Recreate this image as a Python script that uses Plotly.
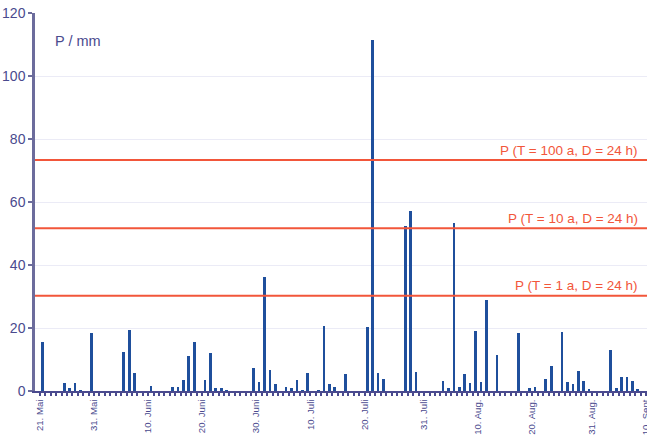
import plotly.graph_objects as go

year = "2005"
dates = ["05-21","05-25","05-26","05-27","05-28","05-30","06-05","06-06","06-07","06-10",
         "06-14","06-15","06-16","06-17","06-18","06-20","06-21","06-22","06-23","06-24",
         "06-29","06-30","07-01","07-02","07-03","07-05","07-06","07-07","07-08","07-09",
         "07-11","07-12","07-13","07-14","07-16","07-20","07-21","07-22","07-23","07-27",
         "07-28","07-29","08-03","08-04","08-05","08-06","08-07","08-08","08-09","08-10",
         "08-11","08-13","08-17","08-19","08-20","08-22","08-23","08-25","08-26","08-27",
         "08-28","08-29","08-30","09-03","09-04","09-05","09-06","09-07","09-08"]
precip = [15.6,2.4,0.8,2.7,0.2,18.5,12.3,19.3,5.8,1.7,
          1.4,1.4,3.5,11.1,15.6,3.5,12.1,0.8,0.8,0.2,
          7.2,2.8,36.2,6.7,2.2,1.4,0.8,3.5,0.2,5.8,
          0.2,20.7,2.2,1.4,5.4,20.2,111.4,5.6,3.8,52.4,
          57.1,6.1,3.2,0.9,53.3,1.4,5.3,2.4,19.2,2.8,
          28.8,11.4,18.5,0.8,1.4,3.7,7.9,18.8,3.0,2.2,
          6.5,3.3,0.6,13.0,1.0,4.5,4.3,3.2,0.5]

tick_dates = ["05-21","05-31","06-10","06-20","06-30","07-10","07-20","07-31",
              "08-10","08-20","08-31","09-10"]
tick_text = ["21. Mai","31. Mai","10. Juni","20. Juni","30. Juni","10. Juli","20. Juli",
             "31. Juli","10. Aug.","20. Aug.","31. Aug.","10. Sept"]

ref_levels = [73.3, 51.7, 30.2]
ref_labels = ["P (T = 100 a, D = 24 h)", "P (T = 10 a, D = 24 h)", "P (T = 1 a, D = 24 h)"]

y_ticks = [0, 20, 40, 60, 80, 100, 120]

axis_col = "#4a4a8e"
red = "#f2563a"
bar_col = "#1f4f9c"
DAY = 86400000

fig = go.Figure()
fig.add_trace(go.Bar(
    x=[f"{year}-{d}" for d in dates], y=precip,
    xperiod=DAY, xperiodalignment="middle",
    width=0.5 * DAY, marker=dict(color=bar_col, line=dict(width=0)),
    showlegend=False, hoverinfo="skip"))

for lvl, lab in zip(ref_levels, ref_labels):
    fig.add_shape(type="line", xref="paper", x0=0, x1=1, yref="y", y0=lvl, y1=lvl,
                  line=dict(color=red, width=2), layer="above")
    fig.add_annotation(xref="paper", x=0.988, yref="y", y=lvl, yshift=10,
                       text=lab, showarrow=False, xanchor="right", yanchor="middle",
                       font=dict(color=red, size=13.5))

fig.add_annotation(xref="paper", x=0.03, yref="y", y=111, text="P / mm", showarrow=False,
                   xanchor="left", yanchor="middle", font=dict(color=axis_col, size=14.5))

fig.update_layout(
    width=647, height=435,
    margin=dict(l=35, r=0, t=13, b=44, autoexpand=False),
    paper_bgcolor="white", plot_bgcolor="white",
    font=dict(family="Liberation Sans, Arial, sans-serif", color=axis_col),
    bargap=0,
    xaxis=dict(
        type="date", automargin=False, ticklabeloverflow="allow",
        range=[f"{year}-05-20 02:00", f"{year}-09-10 04:48"],
        tickvals=[f"{year}-{d}" for d in tick_dates], ticktext=tick_text,
        tickangle=-90, tickfont=dict(size=9.6, color=axis_col),
        ticks="outside", ticklen=3, tickcolor=axis_col, tickwidth=1.5,
        minor=dict(dtick=DAY, ticks="outside", ticklen=3, tickcolor=axis_col, tickwidth=1.5,
                   showgrid=False),
        showline=True, linecolor=axis_col, linewidth=1.5,
        showgrid=False, zeroline=False, fixedrange=True),
    yaxis=dict(
        automargin=False,
        range=[0, 120], tickvals=y_ticks,
        tickfont=dict(size=14, color=axis_col),
        ticks="outside", ticklen=4, tickcolor="#6c6c9c", tickwidth=1.5,
        showline=True, linecolor="#6c6c9c", linewidth=2.5,
        showgrid=True, gridcolor="#ebebf6", gridwidth=1,
        zeroline=False),
)

fig.write_html("out.html")
